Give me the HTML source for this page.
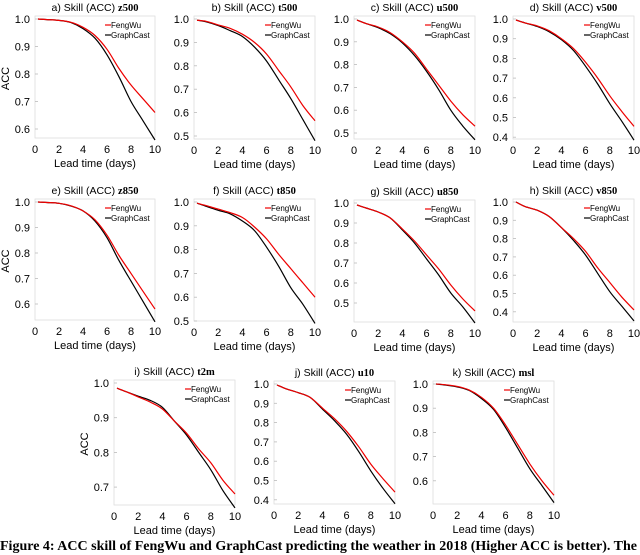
<!DOCTYPE html>
<html><head><meta charset="utf-8">
<style>
body{margin:0;background:#fff;width:640px;height:548px;overflow:hidden;position:relative}
svg{position:absolute;left:0;top:0}
#cap{position:absolute;left:0px;top:539px;font:bold 14px "Liberation Serif",serif;white-space:nowrap;color:#000;line-height:16px}
</style></head><body>
<svg id="chart" width="640" height="548" xmlns="http://www.w3.org/2000/svg"></svg>
<div id="cap">Figure 4: ACC skill of FengWu and GraphCast predicting the weather in 2018 (Higher ACC is better). The</div>
<script>
const days=[0.25,1,2,3,4,5,6,7,8,9,10];
const panelTitles=["a) Skill (ACC) ","b) Skill (ACC) ","c) Skill (ACC) ","d) Skill (ACC) ","e) Skill (ACC) ","f) Skill (ACC) ","g) Skill (ACC) ","h) Skill (ACC) ","i) Skill (ACC) ","j) Skill (ACC) ","k) Skill (ACC) "];
const variables=["z500","t500","u500","v500","z850","t850","u850","v850","t2m","u10","msl"];
const fengwu=[
[1.0,.998,.995,.988,.97,.94,.89,.82,.76,.71,.66],
[.995,.99,.975,.96,.935,.90,.85,.78,.71,.63,.565],
[.995,.98,.965,.94,.90,.85,.78,.71,.64,.58,.53],
[.995,.98,.965,.94,.90,.85,.78,.70,.61,.53,.455],
[1.0,.998,.995,.985,.965,.93,.87,.79,.72,.65,.58],
[.995,.985,.97,.955,.935,.895,.845,.78,.72,.66,.60],
[.99,.975,.955,.925,.87,.81,.74,.67,.59,.52,.46],
[1.0,.975,.955,.92,.86,.80,.73,.64,.56,.48,.41],
[.985,.975,.96,.945,.925,.89,.855,.81,.77,.72,.68],
[.995,.975,.955,.93,.875,.82,.755,.675,.585,.51,.44],
[1.0,.997,.99,.975,.945,.90,.83,.75,.67,.60,.54]];
const graphcast=[
[1.0,.998,.995,.987,.965,.93,.87,.79,.70,.63,.56],
[.995,.988,.972,.95,.925,.88,.82,.74,.66,.57,.48],
[.995,.98,.962,.935,.895,.84,.77,.69,.60,.53,.47],
[.995,.98,.962,.935,.895,.84,.76,.67,.57,.48,.385],
[1.0,.998,.995,.984,.965,.925,.86,.77,.69,.61,.53],
[.995,.982,.965,.95,.92,.88,.81,.73,.64,.57,.49],
[.99,.975,.955,.925,.865,.80,.72,.64,.55,.48,.40],
[1.0,.975,.955,.92,.86,.79,.71,.61,.51,.43,.35],
[.985,.975,.962,.95,.93,.89,.85,.80,.75,.69,.64],
[.995,.975,.955,.93,.87,.81,.74,.65,.55,.46,.38],
[1.0,.996,.988,.973,.94,.895,.82,.735,.65,.58,.51]];
const yTicks=[[1.0,0.9,0.8,0.7,0.6],[1.0,0.9,0.8,0.7,0.6,0.5],[1.0,0.9,0.8,0.7,0.6,0.5],[1.0,0.9,0.8,0.7,0.6,0.5,0.4],
[1.0,0.9,0.8,0.7,0.6],[1.0,0.9,0.8,0.7,0.6,0.5],[1.0,0.9,0.8,0.7,0.6,0.5],[1.0,0.9,0.8,0.7,0.6,0.5,0.4],
[1.0,0.9,0.8,0.7],[1.0,0.9,0.8,0.7,0.6,0.5,0.4],[1.0,0.9,0.8,0.7,0.6]];
const xTicks=[0,2,4,6,8,10];
const layout=[[35,155,19,27.5,138],[194,315,19,23.4,139],[354,475,19,22.8,139],[513,634,19,19.7,139],
[35,155,202,25.5,320],[194,315,202,23.8,321],[354,475,203,20,322],[513,634,202,18.3,322],
[114,235,383,34.7,505],[274,395,384,19.3,504],[433,554,384,24.2,504]];
const svg=document.getElementById('chart');
const NS="http://www.w3.org/2000/svg";
function mk(tag,attrs,parent){const e=document.createElementNS(NS,tag);for(const k in attrs)e.setAttribute(k,attrs[k]);parent.appendChild(e);return e;}
function smooth(p){let d='M'+p[0][0].toFixed(1)+','+p[0][1].toFixed(1);
  for(let i=0;i<p.length-1;i++){const p0=p[i-1]||p[i],p1=p[i],p2=p[i+1],p3=p[i+2]||p2;
    const c1=[p1[0]+(p2[0]-p0[0])/6,p1[1]+(p2[1]-p0[1])/6],c2=[p2[0]-(p3[0]-p1[0])/6,p2[1]-(p3[1]-p1[1])/6];
    d+=` C${c1[0].toFixed(1)},${c1[1].toFixed(1)} ${c2[0].toFixed(1)},${c2[1].toFixed(1)} ${p2[0].toFixed(1)},${p2[1].toFixed(1)}`;}
  return d;}
const F='"Liberation Sans",sans-serif';
layout.forEach((L,i)=>{
  const [x0,x1,yT,k,yB]=L;
  const xs=d=>x0+(x1-x0)*d/10;
  const ys=v=>yT+(1-v)*10*k;
  const g=mk('g',{},svg);
  
  
  const frame=mk('rect',{x:x0,y:yT-3,width:x1-x0,height:yB-yT+3,fill:'none',stroke:'#ddd','stroke-width':0.8},g);
  
  
  const t=mk('text',{x:(x0+x1)/2,y:yT-8,'text-anchor':'middle','font-family':F,'font-size':10.5},g);
  
  
  t.textContent=panelTitles[i];
  const tb=mk('tspan',{'font-family':'"Liberation Serif",serif','font-weight':'bold'},t);tb.textContent=variables[i];
  yTicks[i].forEach(v=>{
    const tl=mk('text',{x:x0-5,y:ys(v)+4,'text-anchor':'end','font-family':F,'font-size':11},g);
    
    
    tl.textContent=v.toFixed(1);
    mk('line',{x1:x0,x2:x0+3,y1:ys(v),y2:ys(v),stroke:'#bbb','stroke-width':0.8},g);
  });
  xTicks.forEach(d=>{
    const tl=mk('text',{x:xs(d),y:yB+15,'text-anchor':'middle','font-family':F,'font-size':11},g);
    
    
    tl.textContent=d;
  });
  const xl=mk('text',{x:(x0+x1)/2,y:yB+29,'text-anchor':'middle','font-family':F,'font-size':11},g);
  
  
  xl.textContent='Lead time (days)';
  if(i===0||i===4||i===8){
    const cy=(yT+yB)/2;
    const yl=mk('text',{x:x0-26,y:cy,'text-anchor':'middle','font-family':F,'font-size':11,transform:`rotate(-90 ${x0-26} ${cy})`},g);
    
    
    yl.textContent='ACC';
  }
  const pts=a=>a.map((v,j)=>[xs(days[j]),ys(v)]);
  const lg=mk('path',{d:smooth(pts(graphcast[i])),fill:'none',stroke:'#000','stroke-width':1.2},g);
  
  
  const lf=mk('path',{d:smooth(pts(fengwu[i])),fill:'none',stroke:'#e00','stroke-width':1.2},g);
  
  
  const lx=x1-48, ly=yT+6;
  [['FengWu','#e00'],['GraphCast','#000']].forEach((e,j)=>{
    mk('line',{x1:lx-2,x2:lx+4,y1:ly+j*10,y2:ly+j*10,stroke:e[1],'stroke-width':1.2},g);
    const tx=mk('text',{x:lx+4,y:ly+j*10+3,'font-family':F,'font-size':8},g);
    
    
    tx.textContent=e[0];
  });
});
</script>
</body></html>
